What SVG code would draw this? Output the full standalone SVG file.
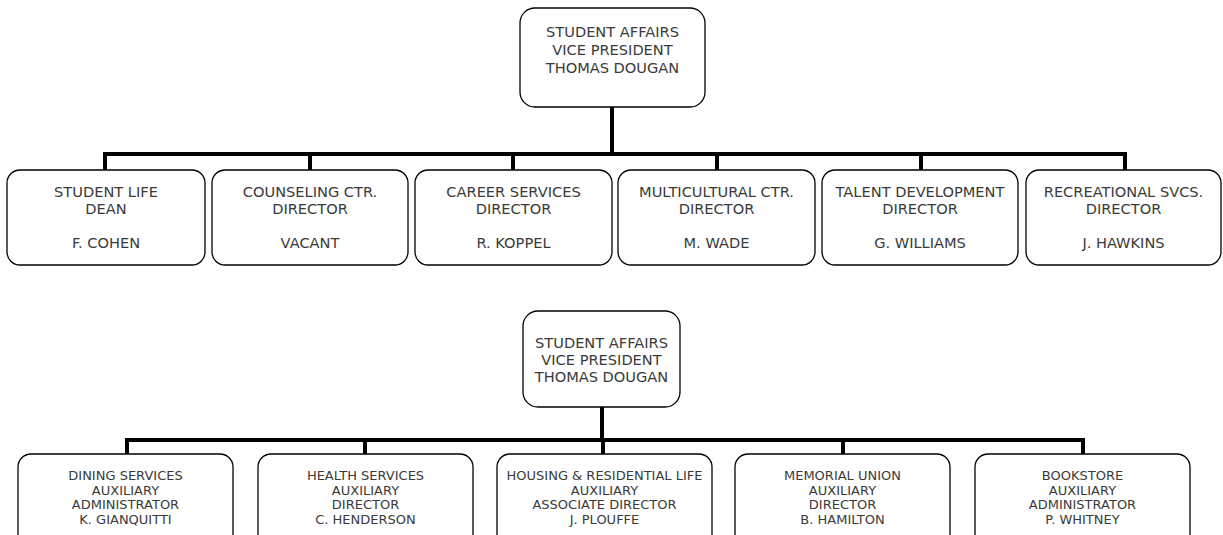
<svg xmlns="http://www.w3.org/2000/svg" width="1223" height="535" viewBox="0 0 1223 535">
<style>
.box{fill:#fff;stroke:#000;stroke-width:1.3}
.t{font-family:"DejaVu Sans",Verdana,sans-serif;font-size:14.6px;fill:#3a3a3a;text-anchor:middle}
.s{font-family:"DejaVu Sans",Verdana,sans-serif;font-size:13px;fill:#3a3a3a;text-anchor:middle}
.c{fill:none;stroke:#000;stroke-width:4;stroke-linecap:square}
</style>
<rect width="1223" height="535" fill="#fff"/>
<g id="connectors">
<path class="c" d="M612 107V154M105 170V154H1125V170M310 154V170M513 154V170M717 154V170M921 154V170"/>
<path class="c" d="M602 407V440M127 454V440H1083V454M365 440V454M603 440V454M843 440V454"/>
</g>
<g id="vp1"><rect class="box" x="520" y="8" width="185" height="99" rx="15"/>
<text class="t" x="612.5" y="37">STUDENT AFFAIRS</text><text class="t" x="612.5" y="55">VICE PRESIDENT</text><text class="t" x="612.5" y="73">THOMAS DOUGAN</text></g>
<g id="n1"><rect class="box" x="7" y="170" width="198" height="95" rx="13"/>
<text class="t" x="106" y="197">STUDENT LIFE</text><text class="t" x="106" y="214">DEAN</text><text class="t" x="106" y="248">F. COHEN</text></g>
<g id="n2"><rect class="box" x="212" y="170" width="196" height="95" rx="13"/>
<text class="t" x="310" y="197">COUNSELING CTR.</text><text class="t" x="310" y="214">DIRECTOR</text><text class="t" x="310" y="248">VACANT</text></g>
<g id="n3"><rect class="box" x="415" y="170" width="197" height="95" rx="13"/>
<text class="t" x="513.5" y="197">CAREER SERVICES</text><text class="t" x="513.5" y="214">DIRECTOR</text><text class="t" x="513.5" y="248">R. KOPPEL</text></g>
<g id="n4"><rect class="box" x="618" y="170" width="197" height="95" rx="13"/>
<text class="t" x="716.5" y="197">MULTICULTURAL CTR.</text><text class="t" x="716.5" y="214">DIRECTOR</text><text class="t" x="716.5" y="248">M. WADE</text></g>
<g id="n5"><rect class="box" x="822" y="170" width="196" height="95" rx="13"/>
<text class="t" x="920" y="197">TALENT DEVELOPMENT</text><text class="t" x="920" y="214">DIRECTOR</text><text class="t" x="920" y="248">G. WILLIAMS</text></g>
<g id="n6"><rect class="box" x="1026" y="170" width="195" height="95" rx="13"/>
<text class="t" x="1123.5" y="197">RECREATIONAL SVCS.</text><text class="t" x="1123.5" y="214">DIRECTOR</text><text class="t" x="1123.5" y="248">J. HAWKINS</text></g>
<g id="vp2"><rect class="box" x="523" y="311" width="157" height="96" rx="15"/>
<text class="t" x="601.5" y="348">STUDENT AFFAIRS</text><text class="t" x="601.5" y="365">VICE PRESIDENT</text><text class="t" x="601.5" y="382">THOMAS DOUGAN</text></g>
<g id="m1"><rect class="box" x="18" y="454" width="215" height="95" rx="13"/>
<text class="s" x="125.5" y="480">DINING SERVICES</text><text class="s" x="125.5" y="494.5">AUXILIARY</text><text class="s" x="125.5" y="509">ADMINISTRATOR</text><text class="s" x="125.5" y="523.5">K. GIANQUITTI</text></g>
<g id="m2"><rect class="box" x="258" y="454" width="215" height="95" rx="13"/>
<text class="s" x="365.5" y="480">HEALTH SERVICES</text><text class="s" x="365.5" y="494.5">AUXILIARY</text><text class="s" x="365.5" y="509">DIRECTOR</text><text class="s" x="365.5" y="523.5">C. HENDERSON</text></g>
<g id="m3"><rect class="box" x="497" y="454" width="215" height="95" rx="13"/>
<text class="s" x="604.5" y="480">HOUSING &amp; RESIDENTIAL LIFE</text><text class="s" x="604.5" y="494.5">AUXILIARY</text><text class="s" x="604.5" y="509">ASSOCIATE DIRECTOR</text><text class="s" x="604.5" y="523.5">J. PLOUFFE</text></g>
<g id="m4"><rect class="box" x="735" y="454" width="215" height="95" rx="13"/>
<text class="s" x="842.5" y="480">MEMORIAL UNION</text><text class="s" x="842.5" y="494.5">AUXILIARY</text><text class="s" x="842.5" y="509">DIRECTOR</text><text class="s" x="842.5" y="523.5">B. HAMILTON</text></g>
<g id="m5"><rect class="box" x="975" y="454" width="215" height="95" rx="13"/>
<text class="s" x="1082.5" y="480">BOOKSTORE</text><text class="s" x="1082.5" y="494.5">AUXILIARY</text><text class="s" x="1082.5" y="509">ADMINISTRATOR</text><text class="s" x="1082.5" y="523.5">P. WHITNEY</text></g>
</svg>
